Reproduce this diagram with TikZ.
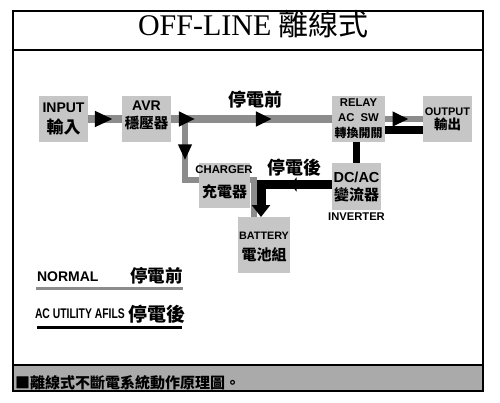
\documentclass[tikz,border=0pt]{standalone}
\usepackage{fontspec}
\setmainfont{Liberation Sans}
\newfontfamily\cjk{Noto Sans CJK TC}
\newfontfamily\serifL{Liberation Serif}
\usetikzlibrary{arrows.meta,decorations.markings}
\definecolor{boxgray}{HTML}{C6C6C6}
\definecolor{linegray}{HTML}{8C8C8C}
\definecolor{bargray}{HTML}{AAAAAA}
\tikzset{
  box/.style={fill=boxgray,draw=none,inner sep=0pt,outer sep=0pt},
  txt/.style={inner sep=0pt,outer sep=0pt,anchor=center},
  lat/.style={font=\bfseries\fontsize{#1}{#1}\selectfont},
  han/.style={font=\cjk\bfseries\fontsize{#1}{#1}\selectfont},
  gline/.style={draw=linegray,line width=8pt},
  bline/.style={draw=black,line width=8pt},
  midarrow/.style n args={3}{postaction={decorate,decoration={markings,
     mark=at position #1 with {\arrow[black]{Triangle[length=#2,width=#3]}}}}}
}
\begin{document}
\begin{tikzpicture}[x=1pt,y=-1pt]
\useasboundingbox[fill=white] (0,0) rectangle (500,402);
% frame
\fill[bargray] (13,365) rectangle (483,391);
\draw[line width=1.2pt] (13,11) rectangle (483,391);
\draw[line width=1.2pt] (13,50) -- (483,50);
\draw[line width=1.2pt] (13,365) -- (483,365);
% title
\node[txt,anchor=base] (title) at (253.5,35) {\fontsize{30}{30}\selectfont\serifL OFF-LINE \cjk 離線式};

% boxes
\node[box,minimum width=49pt,minimum height=46pt] (input) at (63.5,119) {};
\node[box,minimum width=49pt,minimum height=46pt] (avr) at (146.5,119) {};
\node[box,minimum width=53pt,minimum height=46pt] (relay) at (358.5,119) {};
\node[box,minimum width=49pt,minimum height=46pt] (output) at (447.5,119) {};
\node[box,minimum width=51pt,minimum height=45pt] (charger) at (224.5,185.5) {};
\node[box,minimum width=49pt,minimum height=47pt] (dcac) at (356.5,186.5) {};
\node[box,minimum width=52pt,minimum height=56pt] (battery) at (264,245) {};

% connectors
\draw[gline,midarrow={0.73}{18pt}{15pt}] (input.east) -- (avr.west);
\coordinate (br) at (185,119);
\draw[gline,line width=6pt,midarrow={0.55}{16pt}{13pt}] (br) |- ([yshift=-61pt]br -| charger.west);
\draw[gline,midarrow={0.149}{16pt}{14pt},midarrow={0.627}{16pt}{14pt}] (avr.east) -- (relay.west);
\draw[gline,line width=6pt,midarrow={0.62}{16pt}{14pt}] (relay.east) -- (output.west);
\draw[bline] ([yshift=-11pt]relay.east) -- ([yshift=-11pt]output.west);
\draw[bline,line width=7pt] (relay.south -| dcac.north) -- (dcac.north);
\draw[gline,line width=6pt] ([yshift=6pt]charger.east) -| ([xshift=-10pt]battery.north);
\draw[bline,line width=9pt,midarrow={0.40}{6pt}{14pt},-{Triangle[length=12pt,width=18pt]}] ([yshift=2pt]dcac.west) -| ([xshift=-3pt]battery.north);

% box texts
\node[txt,lat=14] (t1) at (63.5,108) {INPUT};
\node[txt,han=17] (t2) at (63.5,127) {輸入};
\node[txt,lat=14] (t3) at (146.5,106) {AVR};
\node[txt,han=14.5] (t4) at (146.5,123) {穩壓器};
\node[txt,lat=11.3] (t5) at (358.5,103) {RELAY};
\node[txt,lat=11.3] (t6) at (358.5,118) {AC\ \ SW};
\node[txt,han=12] (t7) at (358.5,133) {轉換開關};
\node[txt,lat=11] (t8) at (447.5,112) {OUTPUT};
\node[txt,han=13.5] (t9) at (447.5,124) {輸出};
\node[txt,lat=11.3] (t10) at (224,170) {CHARGER};
\node[txt,han=15] (t11) at (224.5,192) {充電器};
\node[txt,lat=14.5] (t12) at (356.5,177) {DC/AC};
\node[txt,han=15] (t13) at (356.5,195) {變流器};
\node[txt,lat=11.2] (t14) at (356.5,217) {INVERTER};
\node[txt,lat=10.8] (t15) at (264,236) {BATTERY};
\node[txt,han=15] (t16) at (264,255) {電池組};

% line labels
\node[txt,han=18] (l1) at (255,100) {停電前};
\node[txt,han=18] (l2) at (294,168) {停電後};

% legend
\node[txt,lat=14,anchor=west] (n1) at (37,277) {NORMAL};
\node[txt,han=17.5] (n2) at (156.5,275.5) {停電前};
\draw[draw=linegray,line width=3pt] (36,288) coordinate (g1) -- (183,288) coordinate (g2);
\node[txt,anchor=west] (n3) at (35,313.5) {\scalebox{0.74}[1]{\bfseries\fontsize{14}{14}\selectfont AC UTILITY AFILS}};
\node[txt,han=19] (n4) at (157,314) {停電後};
\draw[draw=black,line width=3pt] (37,327) coordinate (k1) -- (182,327) coordinate (k2);

% caption
\node[txt,han=15,anchor=west] (cap) at (15,383) {■離線式不斷電系統動作原理圖。};
\end{tikzpicture}
\end{document}
